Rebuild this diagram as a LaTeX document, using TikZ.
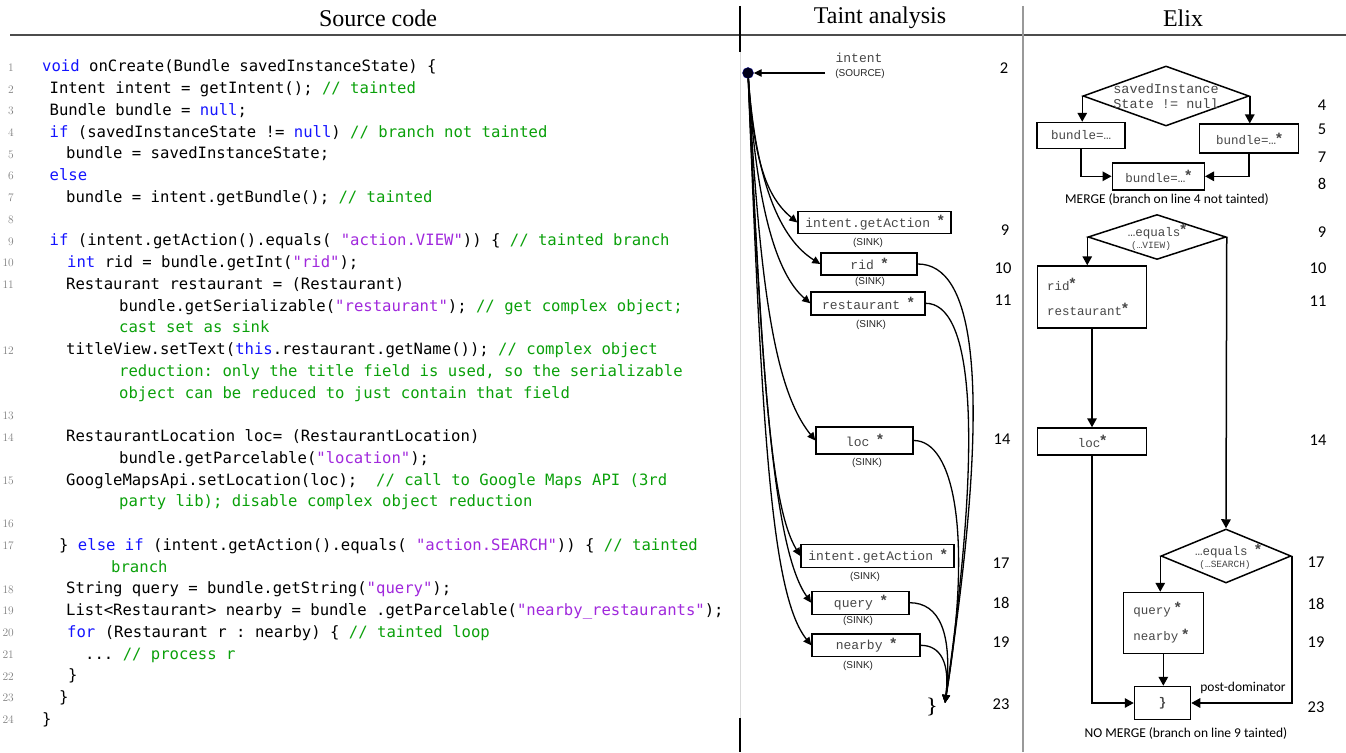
\documentclass[tikz,border=0pt]{standalone}
\usepackage{fontspec}
\usepackage{xcolor}
\usetikzlibrary{arrows.meta, positioning, shapes.geometric}
\newfontfamily\codefont{DejaVu Sans Mono}
\newfontfamily\boxfont{Liberation Mono}
\newfontfamily\sinkfont{Liberation Sans}
\newfontfamily\numfont{Carlito}
\newfontfamily\headfont{Liberation Serif}
\definecolor{kwblue}{RGB}{20,20,255}
\definecolor{strpurple}{RGB}{160,40,220}
\definecolor{cmtgreen}{RGB}{10,160,10}
\definecolor{boxgray}{RGB}{70,70,70}
\newcommand\kwd[1]{\textcolor{kwblue}{#1}}
\newcommand\strg[1]{\textcolor{strpurple}{#1}}
\newcommand\cmnt[1]{\textcolor{cmtgreen}{#1}}
\newcommand\tmark{\raisebox{1.5pt}{\sinkfont\bfseries\fontsize{15}{15}\selectfont *}}

\begin{document}
\begin{tikzpicture}[x=1pt, y=1pt,
    head/.style={inner sep=0, font=\headfont\fontsize{24}{26}\selectfont},
    code/.style={anchor=west, inner sep=0, text height=11.5pt, text depth=3pt,
      font=\codefont\fontsize{15.6}{18}\selectfont\frenchspacing},
    lineno/.style={anchor=east, inner sep=0, text=gray, font=\fontsize{11.5}{13}\selectfont},
    srcdot/.style={circle, fill=black!90!blue, draw=blue!50!black, minimum size=11, inner sep=0},
    tbox/.style={draw, line width=1.4, inner sep=0, text=boxgray,
      font=\boxfont\fontsize{13}{15}\selectfont},
    tlbl/.style={inner sep=0, text=boxgray, font=\boxfont\fontsize{13}{15}\selectfont},
    sinklbl/.style={inner sep=0, text=black!85, font=\sinkfont\fontsize{10}{12}\selectfont},
    tnum/.style={inner sep=0, font=\numfont\fontsize{16.5}{18}\selectfont},
    tarrow/.style={line width=1.3, -{Triangle[length=8pt, width=7.5pt]}},
    dmd/.style={diamond, draw, line width=1.5, inner sep=0},
    ebox/.style={draw, line width=1.5, inner sep=0, text=boxgray,
      font=\boxfont\fontsize{12.5}{14}\selectfont},
    etext/.style={inner sep=0, text=boxgray, align=center, font=\boxfont\fontsize{12.5}{14}\selectfont},
    esmall/.style={inner sep=0, text=boxgray, font=\boxfont\fontsize{9.5}{11}\selectfont},
    note/.style={inner sep=0, font=\numfont\fontsize{13.5}{15}\selectfont},
    earrow/.style={line width=1.5, -{Triangle[length=9pt, width=9.5pt]}}]
  \useasboundingbox (0,0) rectangle (1346,-752);

  % headers and column rules
  \node[head] (hsrc) at (378,-18) {Source code};
  \node[head] (htaint) at (880,-18) {Taint analysis};
  \node[head] (helix) at (1183,-18) {Elix};
  \draw[black!70, line width=1.3] (10,-35) -- (1346,-35);
  \draw[line width=1.2] (740,-6) -- (740,-52);
  \draw[line width=1.2] (740,-718) -- (740,-752);
  \draw[gray!30] (740,-52) -- (740,-718);
  \draw[gray!80, line width=1.5] (1023,-6) -- (1023,-752);

  % source code
  \foreach \n/\r in {1/0, 2/1, 3/2, 4/3, 5/4, 6/5, 7/6, 8/7, 9/8, 10/9, 11/10, 12/13,
                     13/16, 14/17, 15/19, 16/21, 17/22, 18/24, 19/25, 20/26, 21/27,
                     22/28, 23/29, 24/30}
    \node[lineno] (n\n) at (14,{-67.5-21.75*\r}) {\n};
  \node[code] (r0) at (42,-67.5) {\kwd{void} onCreate(Bundle savedInstanceState) \{};
  \node[code] (r1) at (49.5,-89.25) {Intent intent = getIntent(); \cmnt{// tainted}};
  \node[code] (r2) at (49.5,-111) {Bundle bundle = \kwd{null};};
  \node[code] (r3) at (49.5,-132.75) {\kwd{if} (savedInstanceState != \kwd{null}) \cmnt{// branch not tainted}};
  \node[code] (r4) at (66,-154.5) {bundle = savedInstanceState;};
  \node[code] (r5) at (49.5,-176.25) {\kwd{else}};
  \node[code] (r6) at (66,-198) {bundle = intent.getBundle(); \cmnt{// tainted}};
  \node[code] (r8) at (49.5,-241.5) {\kwd{if} (intent.getAction().equals( \strg{"action.VIEW"})) \{ \cmnt{// tainted branch}};
  \node[code] (r9) at (67,-263.25) {\kwd{int} rid = bundle.getInt(\strg{"rid"});};
  \node[code] (r10) at (66,-285) {Restaurant restaurant = (Restaurant)};
  \node[code] (r11) at (119,-306.75) {bundle.getSerializable(\strg{"restaurant"}); \cmnt{// get complex object;}};
  \node[code] (r12) at (119,-328.5) {\cmnt{cast set as sink}};
  \node[code] (r13) at (66,-350.25) {titleView.setText(\kwd{this}.restaurant.getName()); \cmnt{// complex object}};
  \node[code] (r14) at (119,-372) {\cmnt{reduction: only the title field is used, so the serializable}};
  \node[code] (r15) at (119,-393.75) {\cmnt{object can be reduced to just contain that field}};
  \node[code] (r17) at (66,-437.25) {RestaurantLocation loc= (RestaurantLocation)};
  \node[code] (r18) at (119,-459) {bundle.getParcelable(\strg{"location"});};
  \node[code] (r19) at (66,-480.75) {GoogleMapsApi.setLocation(loc);\ \ \cmnt{// call to Google Maps API (3rd}};
  \node[code] (r20) at (119,-502.5) {\cmnt{party lib); disable complex object reduction}};
  \node[code] (r22) at (59,-546) {\} \kwd{else} \kwd{if} (intent.getAction().equals( \strg{"action.SEARCH"})) \{ \cmnt{// tainted}};
  \node[code] (r23) at (111,-567.75) {\cmnt{branch}};
  \node[code] (r24) at (66,-589.5) {String query = bundle.getString(\strg{"query"});};
  \node[code] (r25) at (66,-611.25) {List<Restaurant> nearby = bundle .getParcelable(\strg{"nearby\_restaurants"});};
  \node[code] (r26) at (67,-633) {\kwd{for} (Restaurant r : nearby) \{ \cmnt{// tainted loop}};
  \node[code] (r27) at (85,-654.75) {... \cmnt{// process r}};
  \node[code] (r28) at (68,-676.5) {\}};
  \node[code] (r29) at (59,-698.25) {\}};
  \node[code] (r30) at (42,-720) {\}};

  % taint analysis
  \node[srcdot] (src) at (748,-73) {};
  \node[tlbl] (srcname) at (859,-58) {intent};
  \node[sinklbl] (srctag) at (860,-74) {(SOURCE)};
  \coordinate (srcin) at (825,-73);
  \draw[tarrow] (srcin) -- (src);
  \node[tbox, minimum width=153, minimum height=22.5] (ga1) at (874.5,-222.5) {intent.getAction \tmark};
  \node[tbox, minimum width=96, minimum height=22] (rid) at (869,-264) {rid \tmark};
  \node[tbox, minimum width=114, minimum height=23] (rest) at (868,-303.3) {restaurant \tmark};
  \node[tbox, minimum width=97, minimum height=27] (loc) at (864.5,-440.5) {loc \tmark};
  \node[tbox, minimum width=153, minimum height=23] (ga2) at (877.5,-556) {intent.getAction \tmark};
  \node[tbox, minimum width=97, minimum height=23] (query) at (860.3,-602.7) {query \tmark};
  \node[tbox, minimum width=108, minimum height=22.7] (nearby) at (866,-645.3) {nearby \tmark};
  \node[sinklbl] (ga1sink) at (868,-242.5) {(SINK)};
  \node[sinklbl] (ridsink) at (870,-282) {(SINK)};
  \node[sinklbl] (restsink) at (871,-325) {(SINK)};
  \node[sinklbl] (locsink) at (867,-463) {(SINK)};
  \node[sinklbl] (ga2sink) at (865,-576.7) {(SINK)};
  \node[sinklbl] (querysink) at (858,-621) {(SINK)};
  \node[sinklbl] (nearbysink) at (858,-666) {(SINK)};
  \node[tnum] (t2) at (1004,-68) {2};
  \node[tnum] (t9) at (1005,-230) {9};
  \node[tnum] (t10) at (1003,-268) {10};
  \node[tnum] (t11) at (1003,-300) {11};
  \node[tnum] (t14) at (1002,-439) {14};
  \node[tnum] (t17) at (1001,-563) {17};
  \node[tnum] (t18) at (1001,-603) {18};
  \node[tnum] (t19) at (1001,-642) {19};
  \node[tnum] (t23) at (1001,-704) {23};
  \draw[tarrow] (src) .. controls +(6,-90) and +(-30,25) .. (ga1.west);
  \draw[tarrow] (src) .. controls +(8,-110) and +(-40,25) .. (rid.west);
  \draw[tarrow] (src) .. controls +(8,-130) and +(-35,30) .. (rest.west);
  \draw[tarrow] (src) .. controls +(12,-220) and +(-40,50) .. (loc.west);
  \draw[tarrow] (src) .. controls +(14,-300) and +(-30,50) .. (ga2.west);
  \draw[tarrow] (src) .. controls +(14,-330) and +(-35,50) .. (query.west);
  \draw[tarrow] (src) .. controls +(14,-360) and +(-40,50) .. (nearby.west);
  \node[inner sep=0, font=\fontsize{18}{18}\selectfont\bfseries] (close) at (932,-707) {\}};
  \coordinate (sinkend) at (945,-703);
  \draw[tarrow] (rid.east) .. controls +(55,0) and +(50,330) .. (sinkend);
  \draw[tarrow] (rest.east) .. controls +(45,0) and +(40,280) .. (sinkend);
  \draw[tarrow] (loc.east) .. controls +(40,0) and +(28,170) .. (sinkend);
  \draw[tarrow] (query.east) .. controls +(30,0) and +(8,70) .. (sinkend);
  \draw[tarrow] (nearby.east) .. controls +(20,0) and +(5,40) .. (sinkend);

  % elix
  \node[dmd, minimum width=166, minimum height=60] (d1) at (1166,-96) {};
  \node[etext, font=\boxfont\fontsize{13.5}{15}\selectfont] (d1txt) at (d1) {savedInstance\\State != null};
  \node[ebox, minimum width=88, minimum height=26] (b1) at (1081,-135.5) {bundle=…};
  \node[ebox, minimum width=99, minimum height=29] (b2) at (1249,-138.7) {bundle=…\tmark};
  \node[ebox, minimum width=92, minimum height=27] (b3) at (1158.3,-176.3) {bundle=…\tmark};
  \node[note] (mergenote) at (1167,-199.3) {MERGE (branch on line 4 not tainted)};
  \draw[earrow] (d1.west) -- (d1.west |- b1.north);
  \draw[earrow] (d1.east) -- (d1.east |- b2.north);
  \draw[earrow] (b1.south) |- (b3.west);
  \draw[earrow] (b2.south) |- (b3.east);

  \node[dmd, minimum width=138, minimum height=45] (d2) at (1157,-237) {};
  \node[etext] (d2top) at (1157,-231.7) {…equals\tmark};
  \node[esmall] (d2sub) at (1151,-246) {(…VIEW)};
  \node[ebox, minimum height=62, text width=90, inner xsep=9.5, align=left,
    font=\boxfont\fontsize{12.5}{25}\selectfont] (b4) at (1092,-297) {rid\tmark\\restaurant\tmark};
  \node[ebox, minimum width=109, minimum height=27] (b5) at (1092,-441.5) {loc\tmark};
  \node[dmd, minimum width=130, minimum height=54] (d3) at (1226,-556) {};
  \node[etext] (d3top) at (1228,-551) {…equals \tmark};
  \node[esmall] (d3sub) at (1225,-565.5) {(…SEARCH)};
  \node[ebox, minimum height=61, text width=60, inner xsep=10, align=left,
    font=\boxfont\fontsize{12.5}{26.6}\selectfont] (b6) at (1163.3,-623) {query \tmark\\nearby \tmark};
  \node[ebox, minimum width=56, minimum height=33, font=\boxfont\bfseries\fontsize{12.5}{14}\selectfont] (b7) at (1162.5,-703) {\}};
  \node[note] (pdom) at (1243,-688) {post-dominator};
  \node[note] (nomerge) at (1186,-733) {NO MERGE (branch on line 9 tainted)};
  \draw[earrow] (d2.west) -- (d2.west |- b4.north);
  \draw[earrow] (b4.south) -- (b5.north);
  \draw[earrow] (d2.east) -- (d3.north);
  \draw[earrow] (d3.west) -- (d3.west |- b6.north);
  \draw[earrow] (b6.south) -- (b6.south |- b7.north);
  \draw[earrow] (b5.south) |- (b7.west);
  \draw[earrow] (d3.east) |- (b7.east);
  \node[tnum] (e4) at (1322,-105) {4};
  \node[tnum] (e5) at (1322,-129) {5};
  \node[tnum] (e7) at (1322,-157) {7};
  \node[tnum] (e8) at (1322,-184) {8};
  \node[tnum] (e9) at (1322,-232) {9};
  \node[tnum] (e10) at (1318,-268) {10};
  \node[tnum] (e11) at (1318,-301) {11};
  \node[tnum] (e14) at (1318,-440) {14};
  \node[tnum] (e17) at (1316,-562) {17};
  \node[tnum] (e18) at (1316,-604) {18};
  \node[tnum] (e19) at (1316,-642) {19};
  \node[tnum] (e23) at (1316,-707) {23};
\end{tikzpicture}
\end{document}
